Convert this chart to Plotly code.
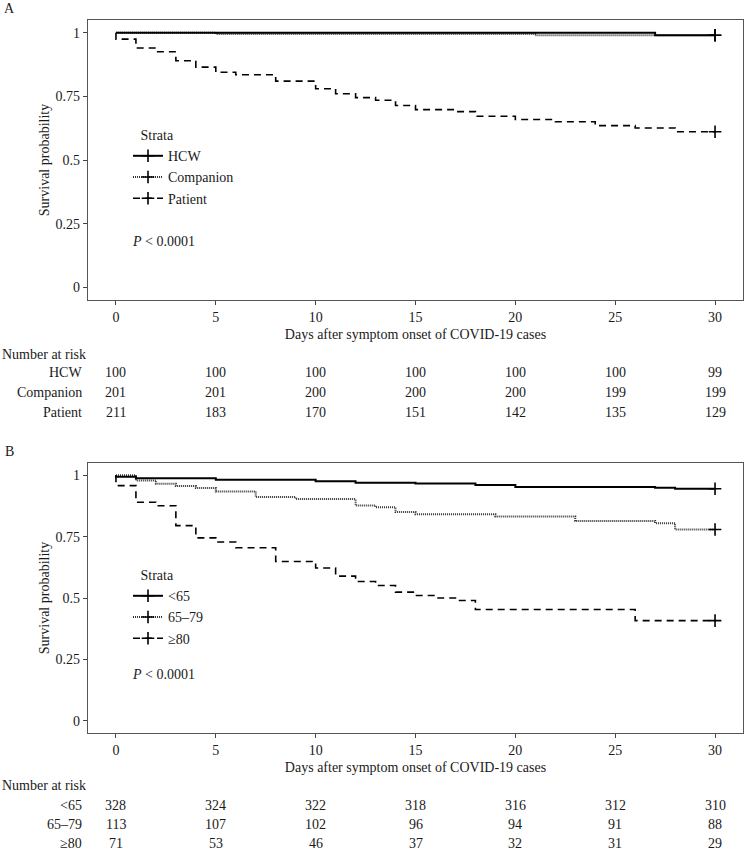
import plotly.graph_objects as go

# ---------------- data ----------------
# Panel A: strata by role
hcw_days = [0, 27, 30]
hcw_surv = [1.0, 0.99, 0.99]
comp_days = [0, 5, 21, 30]
comp_surv = [1.0, 0.995, 0.990, 0.990]
pat_days = [0, 0, 1, 2, 3, 4, 5, 6, 8, 10, 11, 12, 13, 14, 15, 17, 18, 20, 22, 24, 26, 28, 30]
pat_surv = [1.0, 0.975, 0.94, 0.925, 0.89, 0.865, 0.845, 0.835, 0.81, 0.78, 0.76, 0.745, 0.735,
            0.714, 0.698, 0.69, 0.672, 0.659, 0.65, 0.635, 0.626, 0.611, 0.611]

# Panel B: strata by age
u65_days = [0, 0, 1, 5, 10, 12, 15, 18, 20, 27, 28, 30]
u65_surv = [1.0, 0.994, 0.988, 0.982, 0.976, 0.970, 0.966, 0.960, 0.952, 0.949, 0.945, 0.945]
m65_days = [0, 1, 2, 3, 4, 5, 7, 9, 12, 13, 14, 15, 19, 23, 27, 28, 30]
m65_surv = [1.0, 0.979, 0.965, 0.956, 0.948, 0.934, 0.911, 0.903, 0.877, 0.870, 0.850, 0.841,
            0.832, 0.814, 0.805, 0.779, 0.779]
o80_days = [0, 0, 1, 2, 3, 4, 5, 6, 8, 10, 11, 12, 13, 14, 15, 16, 17, 18, 26, 30]
o80_surv = [1.0, 0.958, 0.89, 0.876, 0.795, 0.745, 0.728, 0.705, 0.649, 0.622, 0.589, 0.567,
            0.551, 0.524, 0.51, 0.50, 0.49, 0.453, 0.408, 0.408]

strata_a = ["HCW", "Companion", "Patient"]
strata_b = ["<65", "65–79", "≥80"]

risk_times = [0, 5, 10, 15, 20, 25, 30]
hcw_risk = [100, 100, 100, 100, 100, 100, 99]
comp_risk = [201, 201, 200, 200, 200, 199, 199]
pat_risk = [211, 183, 170, 151, 142, 135, 129]
u65_risk = [328, 324, 322, 318, 316, 312, 310]
m65_risk = [113, 107, 102, 96, 94, 91, 88]
o80_risk = [71, 53, 46, 37, 32, 31, 29]

x_ticks = [0, 5, 10, 15, 20, 25, 30]
y_ticks = [0, 0.25, 0.5, 0.75, 1]
y_ticklabels = ["0", "0.25", "0.5", "0.75", "1"]

# ---------------- styling ----------------
W, H = 748, 854
FONT = "Liberation Serif"
FS = 14
TXT = "#1a1a1a"
styles = [
    dict(color="black", width=2, dash="solid"),
    dict(color="#333333", width=2, dash="1px,1px"),
    dict(color="black", width=1.6, dash="7px,5px"),
]


def py(pix):
    return 1 - pix / H


def px(pix):
    return pix / W


fig = go.Figure()

panels = [
    dict(xa="x", ya="y", legend="legend",
         curves=[(hcw_days, hcw_surv), (comp_days, comp_surv), (pat_days, pat_surv)],
         names=strata_a),
    dict(xa="x2", ya="y2", legend="legend2",
         curves=[(u65_days, u65_surv), (m65_days, m65_surv), (o80_days, o80_surv)],
         names=strata_b),
]

for p in panels:
    # draw in reverse so first stratum is on top
    for i in [2, 1, 0]:
        d, s = p["curves"][i]
        fig.add_trace(go.Scatter(x=d, y=s, mode="lines", line_shape="hv",
                                 line=styles[i], xaxis=p["xa"], yaxis=p["ya"],
                                 showlegend=False, hoverinfo="skip"))
    for i in range(3):
        d, s = p["curves"][i]
        fig.add_trace(go.Scatter(x=[d[-1]], y=[s[-1]], mode="lines+markers",
                                 name=p["names"][i], line=styles[i],
                                 marker=dict(symbol="cross-thin-open", size=9,
                                             line=dict(color="black", width=1.6), color="black"),
                                 xaxis=p["xa"], yaxis=p["ya"], legend=p["legend"]))

axis_common = dict(range=[-1.4, 31.4], tickvals=x_ticks, ticks="outside", ticklen=4,
                   tickcolor="#444", tickwidth=1, showline=True, linecolor="#555",
                   linewidth=1.2, mirror=True, showgrid=False, zeroline=False,
                   tickfont=dict(family=FONT, size=FS, color=TXT))
yaxis_common = dict(range=[-0.05, 1.05], tickvals=y_ticks, ticktext=y_ticklabels,
                    ticks="outside", ticklen=4, tickcolor="#444", tickwidth=1,
                    showline=True, linecolor="#555", linewidth=1.2, mirror=True,
                    showgrid=False, zeroline=False,
                    tickfont=dict(family=FONT, size=FS, color=TXT))

xdom = [px(88), px(743)]
xtitle = dict(text="Days after symptom onset of COVID-19 cases",
              font=dict(family=FONT, size=FS, color=TXT), standoff=5)
ytitle = dict(text="Survival probability", font=dict(family=FONT, size=FS, color=TXT), standoff=2)

legend_common = dict(font=dict(family=FONT, size=FS, color=TXT), bgcolor="rgba(0,0,0,0)",
                     xanchor="left", yanchor="top", itemwidth=30, tracegroupgap=0,
                     title=dict(font=dict(family=FONT, size=FS, color=TXT)))

fig.update_layout(
    width=W, height=H, margin=dict(l=0, r=0, t=0, b=0),
    plot_bgcolor="white", paper_bgcolor="white",
    xaxis=dict(domain=xdom, anchor="y", title=xtitle, **axis_common),
    yaxis=dict(domain=[py(300), py(20)], anchor="x", title=ytitle, **yaxis_common),
    xaxis2=dict(domain=xdom, anchor="y2", title=xtitle, **axis_common),
    yaxis2=dict(domain=[py(733), py(463)], anchor="x2", title=ytitle, **yaxis_common),
    legend=dict(x=px(128), y=py(122), title_text="\u00a0\u00a0\u00a0Strata", **legend_common),
    legend2=dict(x=px(128), y=py(562), title_text="\u00a0\u00a0\u00a0Strata", **legend_common),
)

ann = []
ann.append(dict(text="A", x=px(2), y=py(8), xref="paper", yref="paper", xanchor="left",
                yanchor="middle", showarrow=False, font=dict(family=FONT, size=FS, color=TXT)))
ann.append(dict(text="B", x=px(3), y=py(451), xref="paper", yref="paper", xanchor="left",
                yanchor="middle", showarrow=False, font=dict(family=FONT, size=FS, color=TXT)))
ann.append(dict(text="<i>P</i> < 0.0001", x=0.7, y=0.18, xref="x", yref="y", xanchor="left",
                yanchor="middle", showarrow=False, font=dict(family=FONT, size=FS, color=TXT)))
ann.append(dict(text="<i>P</i> < 0.0001", x=0.7, y=0.19, xref="x2", yref="y2", xanchor="left",
                yanchor="middle", showarrow=False, font=dict(family=FONT, size=FS, color=TXT)))

tables = [
    ("x", 354, [373, 393, 412], strata_a, [hcw_risk, comp_risk, pat_risk]),
    ("x2", 785, [805, 824, 843], strata_b, [u65_risk, m65_risk, o80_risk]),
]
for xr, head_y, rows_y, names, risks in tables:
    ann.append(dict(text="Number at risk", x=0, y=py(head_y), xref="paper", yref="paper",
                    xanchor="left", yanchor="middle", showarrow=False,
                    font=dict(family=FONT, size=FS, color=TXT)))
    for ry, nm, rk in zip(rows_y, names, risks):
        ann.append(dict(text=nm.replace("<", "&lt;"), x=px(84), y=py(ry), xref="paper",
                        yref="paper", xanchor="right", yanchor="middle", showarrow=False,
                        font=dict(family=FONT, size=FS, color=TXT)))
        for t, v in zip(risk_times, rk):
            ann.append(dict(text=str(v), x=t, y=py(ry), xref=xr, yref="paper",
                            xanchor="center", yanchor="middle", showarrow=False,
                            font=dict(family=FONT, size=FS, color=TXT)))

fig.update_layout(annotations=ann)
fig.write_html("out.html", config={"displayModeBar": False},
               post_script="document.body.style.margin='0px';")
